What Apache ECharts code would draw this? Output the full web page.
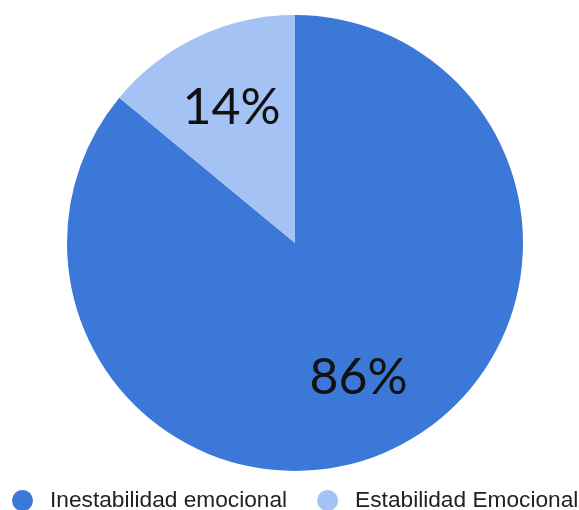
<!DOCTYPE html>
<html><head><meta charset="utf-8">
<script src="https://cdn.jsdelivr.net/npm/echarts@6/dist/echarts.min.js"></script>
<style>html,body{margin:0;padding:0;background:#fff}#c{width:579px;height:510px}</style>
</head><body><div id="c"></div>
<script>
const categories = ['Inestabilidad emocional', 'Estabilidad Emocional'];
const values = [86, 14];
const colors = ['#3c78d8', '#a4c2f4'];

const chart = echarts.init(document.getElementById('c'), null, {renderer: 'canvas'});
const data = categories.map((n, i) => ({name: n, value: values[i], itemStyle: {color: colors[i]}}));
chart.setOption({
  animation: false,
  legend: {
    data: categories,
    left: 12, top: 489, padding: 0, width: 700,
    icon: 'circle', itemWidth: 21, itemHeight: 21, itemGap: 30,
    textStyle: {fontFamily: 'Liberation Sans, Arial', fontSize: 22.7, color: '#222', padding: [0, 0, 0, 12]}
  },
  series: [
    {
      type: 'pie', center: [295, 243], radius: [0, 228],
      startAngle: 90, clockwise: true, silent: true,
      label: {show: false}, labelLine: {show: false},
      itemStyle: {borderWidth: 0},
      data: data
    },
    {
      type: 'pie', center: [295, 243], radius: [64, 228],
      startAngle: 90, clockwise: true, silent: true, legendHoverLink: false,
      itemStyle: {color: 'rgba(0,0,0,0)', borderWidth: 0},
      label: {show: true, position: 'inside', formatter: '{c}%', fontFamily: 'Lato, Carlito, sans-serif', fontSize: 50, color: '#111'},
      labelLine: {show: false},
      data: categories.map((n, i) => ({name: n + ' ', value: values[i]}))
    }
  ]
});
</script></body></html>
